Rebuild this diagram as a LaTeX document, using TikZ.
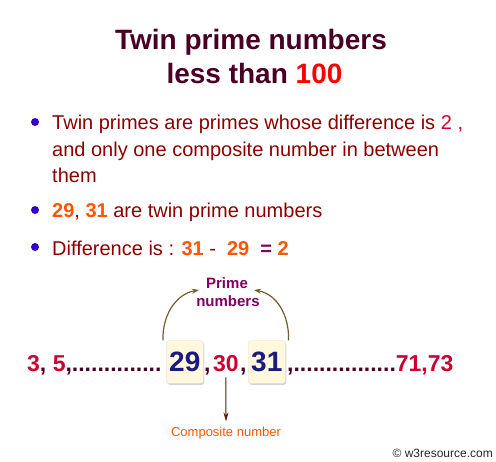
\documentclass[tikz,border=0pt]{standalone}
\usepackage{fontspec}
\setmainfont{Liberation Sans}
\usetikzlibrary{calc,arrows.meta,shadows}

\definecolor{titlecol}{RGB}{74,0,36}
\definecolor{textcol}{RGB}{140,0,0}
\definecolor{crimson}{RGB}{204,0,51}
\definecolor{orangecol}{RGB}{255,85,0}
\definecolor{purplecol}{RGB}{128,0,96}
\definecolor{bulletcol}{RGB}{51,0,204}
\definecolor{navycol}{RGB}{26,26,128}
\definecolor{boxcol}{RGB}{255,248,220}
\definecolor{arrowcol}{RGB}{110,95,45}
\definecolor{browncol}{RGB}{80,30,10}

\tikzset{
  bullet/.style={circle,fill=bulletcol,inner sep=0pt,minimum size=8pt},
  titleline/.style={anchor=base,inner sep=0pt,text=titlecol,font=\bfseries\fontsize{28}{28}\selectfont},
  textline/.style={anchor=base west,inner sep=0pt,text=textcol,font=\fontsize{20}{26.5}\selectfont},
  numline/.style={anchor=base west,inner sep=0pt,text=crimson,font=\bfseries\fontsize{23}{23}\selectfont},
  primebox/.style={anchor=base west,rounded corners=3pt,fill=boxcol,draw=black!12,
    drop shadow={shadow xshift=1pt,shadow yshift=-1.5pt,opacity=0.35},
    inner xsep=3pt,inner ysep=11.5pt,text height=20pt,text depth=0pt,
    text=navycol,font=\bfseries\fontsize{28}{28}\selectfont},
  bendarrow/.style={draw=arrowcol,line width=1.2pt,-{Stealth[length=7pt,width=5pt]}},
}

\begin{document}
\begin{tikzpicture}[x=1pt,y=1pt]
   \useasboundingbox (0,0) rectangle (496,-462);
   % title
   \node[titleline] (title1) at (251,-49.5) {Twin prime numbers};
   \node[titleline] (title2) at (254.5,-84) {less than \textcolor{red}{100}};
   % bullets
   \node[bullet] (dot1) at (35,-122) {};
   \node[bullet] (dot2) at (35,-210) {};
   \node[bullet] (dot3) at (35,-247) {};
   \node[textline] (line1) at (52,-130) {Twin primes are primes whose difference is \textcolor{crimson}{2 ,}};
   \node[textline] (line2) at (52,-156.5) {and only one composite number in between};
   \node[textline] (line3) at (52,-183) {them};
   \node[textline] (line4) at (52,-218) {\textcolor{orangecol}{\bfseries 29}, \textcolor{orangecol}{\bfseries 31} are twin prime numbers};
   \node[textline] (line5) at (52,-256) {Difference is : \textcolor{orangecol}{\bfseries 31} - \ \textcolor{orangecol}{\bfseries 29} \ \textcolor{purplecol}{\bfseries =} \textcolor{orangecol}{\bfseries 2}};
   % number row
   \node[numline] (first) at (27,-372) {3\textcolor{titlecol}{,} 5\textcolor{titlecol}{,..............}};
   \node[primebox] (box29) at (166,-372) {29};
   \node[numline,text=titlecol] (sep29) at (204,-372) {,};
   \node[numline] (n30) at (213,-372) {30};
   \node[numline,text=titlecol] (sep30) at (240,-372) {,};
   \node[primebox] (box31) at (248,-372) {31};
   \node[numline] (last) at (287,-372) {\textcolor{titlecol}{,................}71,73};
   % labels
   \node[anchor=base,inner sep=0pt,text=purplecol,font=\bfseries\fontsize{15}{15}\selectfont] (prime) at (227,-289) {Prime};
   \node[anchor=base,inner sep=0pt,text=purplecol,font=\bfseries\fontsize{15}{15}\selectfont] (numbers) at (228,-307) {numbers};
   \node[anchor=base,inner sep=0pt,text=orangecol,font=\fontsize{13}{13}\selectfont] (comp) at (226,-437) {Composite number};
   \node[anchor=base east,inner sep=0pt,text=black!85,font=\fontsize{12}{12}\selectfont] (copy) at (493,-458) {\textcopyright\ w3resource.com};
   % arrows
   \draw[bendarrow] ($(box29.north west)+(-3,0)$) to[out=92,in=190] ($(prime.base west)+(-7,-1)$);
   \draw[bendarrow] ($(box31.north east)+(3,0)$) to[out=88,in=-10] ($(prime.base east)+(6,-1)$);
   \draw[browncol,line width=1pt,-{Stealth[length=9pt,width=5pt]}] ($(n30.south)+(0,-5)$) -- ($(comp.north)+(0,6)$);
\end{tikzpicture}
\end{document}
